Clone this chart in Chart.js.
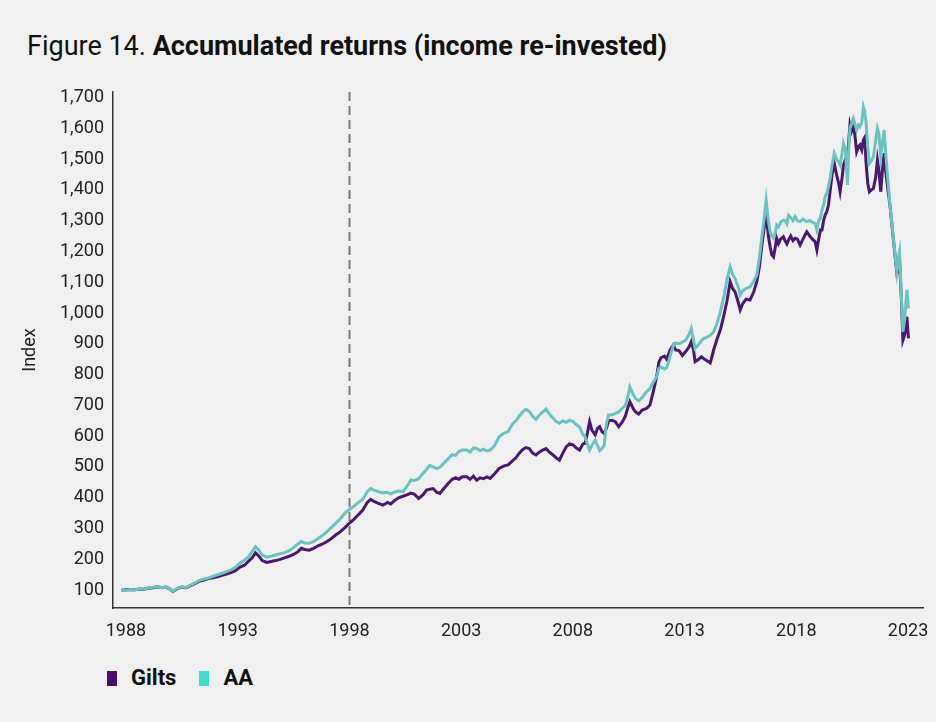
<!DOCTYPE html>
<html>
<head>
<meta charset="utf-8">
<script src="https://cdn.jsdelivr.net/npm/chart.js@4.4.1/dist/chart.umd.min.js"></script>
<style>
  html, body { margin:0; padding:0; background:#f0f0f0; }
  body { width:936px; height:722px; position:relative; overflow:hidden; font-family:Roboto, sans-serif; }
  #title { position:absolute; left:27px; top:30px; font-size:27px; line-height:32px; color:#111; white-space:nowrap; }
  #title b { font-weight:700; }
  #wrap { position:absolute; left:0; top:0; width:936px; height:650px; }
  #legend { position:absolute; left:107px; top:664px; display:flex; align-items:center; font-size:22px; line-height:28px; font-weight:700; color:#111; }
  #legend .item { display:flex; align-items:center; margin-right:23px; }
  #legend .sw { width:10px; height:15px; margin-right:14px; }
</style>
</head>
<body>
<div id="title">Figure 14. <b>Accumulated returns (income re-invested)</b></div>
<div id="wrap"><canvas id="chart" width="936" height="650"></canvas></div>
<div id="legend"></div>
<script>
'use strict';

const years = [
  1987.8, 1988.0, 1988.2, 1988.4, 1988.6, 1988.8, 1989.0, 1989.2, 1989.4, 1989.6,
  1989.8, 1990.0, 1990.1, 1990.3, 1990.5, 1990.7, 1990.9, 1991.1, 1991.3, 1991.5,
  1991.7, 1991.9, 1992.1, 1992.3, 1992.5, 1992.7, 1992.9, 1993.1, 1993.3, 1993.5,
  1993.65, 1993.8, 1993.95, 1994.1, 1994.3, 1994.5, 1994.7, 1994.9, 1995.1, 1995.3,
  1995.5, 1995.7, 1995.85, 1996.0, 1996.2, 1996.4, 1996.6, 1996.8, 1997.0, 1997.2,
  1997.4, 1997.6, 1997.8, 1998.0, 1998.2, 1998.4, 1998.6, 1998.8, 1998.95, 1999.1,
  1999.3, 1999.5, 1999.7, 1999.85, 2000.0, 2000.2, 2000.4, 2000.6, 2000.75, 2000.9,
  2001.1, 2001.3, 2001.45, 2001.6, 2001.75, 2001.9, 2002.05, 2002.2, 2002.4, 2002.6,
  2002.75, 2002.9, 2003.05, 2003.25, 2003.4, 2003.55, 2003.7, 2003.85, 2004.0, 2004.15,
  2004.3, 2004.5, 2004.7, 2004.9, 2005.1, 2005.3, 2005.45, 2005.6, 2005.75, 2005.9,
  2006.05, 2006.2, 2006.35, 2006.5, 2006.65, 2006.8, 2006.95, 2007.1, 2007.25, 2007.4,
  2007.55, 2007.7, 2007.85, 2008.0, 2008.15, 2008.3, 2008.45, 2008.55, 2008.65, 2008.75,
  2008.85, 2009.0, 2009.1, 2009.2, 2009.3, 2009.4, 2009.5, 2009.6, 2009.75, 2009.9,
  2010.05, 2010.2, 2010.35, 2010.45, 2010.55, 2010.7, 2010.8, 2010.95, 2011.1, 2011.3,
  2011.45, 2011.6, 2011.75, 2011.85, 2011.95, 2012.1, 2012.2, 2012.35, 2012.5, 2012.6,
  2012.75, 2012.9, 2013.05, 2013.2, 2013.3, 2013.4, 2013.47, 2013.6, 2013.75, 2013.85,
  2014.0, 2014.15, 2014.3, 2014.45, 2014.6, 2014.75, 2014.9, 2015.04, 2015.15, 2015.26,
  2015.4, 2015.49, 2015.6, 2015.75, 2015.93, 2016.1, 2016.23, 2016.35, 2016.45, 2016.55,
  2016.65, 2016.75, 2016.83, 2016.9, 2016.98, 2017.05, 2017.12, 2017.2, 2017.3, 2017.42,
  2017.5, 2017.58, 2017.65, 2017.75, 2017.85, 2017.95, 2018.05, 2018.17, 2018.3, 2018.4,
  2018.47, 2018.6, 2018.72, 2018.84, 2018.92, 2019.0, 2019.08, 2019.15, 2019.22, 2019.29,
  2019.37, 2019.44, 2019.52, 2019.6, 2019.7, 2019.8, 2019.9, 2019.96, 2020.05, 2020.11,
  2020.2, 2020.29, 2020.35, 2020.4, 2020.47, 2020.55, 2020.62, 2020.7, 2020.78, 2020.85,
  2020.93, 2021.0, 2021.06, 2021.12, 2021.2, 2021.27, 2021.36, 2021.45, 2021.55, 2021.63,
  2021.7, 2021.78, 2021.85, 2021.93, 2022.0, 2022.1, 2022.2, 2022.3, 2022.4, 2022.5,
  2022.57, 2022.62, 2022.7, 2022.77, 2022.85, 2022.95, 2023.02
];

const gilts = [
  100, 101, 102, 101, 104, 103, 106, 108, 111, 108,
  110, 102, 96, 105, 110, 108, 115, 122, 130, 133,
  138, 140, 143, 148, 152, 157, 163, 175, 181, 195,
  205, 221, 210, 196, 190, 193, 196, 200, 205, 210,
  216, 225, 236, 232, 230, 236, 244, 250, 258, 268,
  280, 290, 303, 318, 330, 345, 360, 385, 395, 388,
  382, 376, 385, 380, 390, 400, 405, 410, 415, 412,
  398, 410, 425, 428, 430, 418, 414, 428, 445, 460,
  465, 460, 468, 468, 460, 470, 457, 465, 462, 468,
  463, 478, 495, 503, 507, 520, 530, 545, 556, 563,
  560, 545, 539, 548, 555, 560, 548, 540, 530, 522,
  545, 565, 575, 572, 562, 555, 575, 577, 610, 647,
  620, 604, 625, 631, 615, 609, 625, 650, 652, 647,
  631, 645, 665, 690, 712, 690, 679, 672, 685, 690,
  701, 745, 793, 840, 855, 860, 850, 880, 896, 880,
  878, 862, 875, 890, 907, 880, 842, 848, 858, 852,
  845, 838, 880, 915, 945, 990, 1040, 1102, 1080, 1069,
  1035, 1010, 1030, 1045, 1042, 1070, 1102, 1150, 1215, 1270,
  1324, 1250, 1215, 1190, 1183, 1210, 1243, 1225, 1240, 1248,
  1235, 1225, 1237, 1250, 1235, 1243, 1240, 1221, 1240, 1255,
  1264, 1250, 1240, 1232, 1205, 1240, 1270, 1270, 1300, 1318,
  1330, 1351, 1400, 1450, 1486, 1450, 1420, 1394, 1440, 1480,
  1500, 1508, 1560, 1611, 1590, 1605, 1580, 1524, 1540, 1546,
  1530, 1562, 1570, 1490, 1420, 1394, 1400, 1405, 1440, 1497,
  1460, 1394, 1460, 1519, 1460, 1400, 1345, 1270, 1200, 1129,
  1140, 1172, 1050, 912, 930, 988, 918
];

const aa = [
  100, 100, 102, 101, 104, 104, 107, 109, 111, 108,
  110, 103, 97, 106, 111, 109, 116, 124, 132, 136,
  140, 145, 150, 155, 160, 166, 174, 188, 197, 210,
  225, 241, 230, 214, 207, 210, 214, 218, 222, 228,
  238, 250, 258, 253, 252, 258, 268, 278, 290, 304,
  318, 332, 350, 362, 372, 385, 395, 420, 430, 425,
  420, 416, 418, 412, 418, 422, 420, 440, 458, 456,
  462, 480, 492, 505, 500, 495, 499, 510, 525, 540,
  538, 550, 555, 555, 548, 562, 560, 553, 558, 552,
  555, 570, 598, 609, 615, 640, 650, 665, 678, 687,
  680, 665, 655, 668, 678, 688, 672, 660, 648, 642,
  650, 645, 652, 648, 638, 630, 605, 598, 575, 555,
  570, 587, 570, 553, 560, 570, 640, 669, 670, 674,
  679, 690, 700, 725, 760, 735, 723, 715, 725, 745,
  755, 775, 793, 820, 825, 818, 822, 860, 895, 903,
  900, 906, 912, 930, 950, 912, 885, 895, 910, 917,
  922, 928, 939, 965, 1004, 1050, 1110, 1150, 1125, 1112,
  1085, 1058, 1072, 1080, 1085, 1105, 1123, 1180, 1243, 1300,
  1367, 1300, 1264, 1250, 1243, 1260, 1286, 1280, 1295, 1302,
  1300, 1290, 1318, 1310, 1300, 1313, 1300, 1297, 1305, 1300,
  1297, 1300, 1295, 1291, 1270, 1300, 1310, 1334, 1350, 1378,
  1390, 1410, 1440, 1480, 1519, 1500, 1490, 1481, 1520, 1551,
  1530, 1416, 1540, 1600, 1615, 1632, 1615, 1594, 1610, 1605,
  1620, 1670, 1655, 1621, 1540, 1486, 1495, 1508, 1560, 1600,
  1580, 1508, 1550, 1594, 1520, 1430, 1345, 1275, 1205, 1134,
  1180, 1199, 1060, 939, 980, 1075, 1015
];

const xTicks = [1988, 1993, 1998, 2003, 2008, 2013, 2018, 2023];
const yTicks = [100, 200, 300, 400, 500, 600, 700, 800, 900, 1000, 1100, 1200, 1300, 1400, 1500, 1600, 1700];
const markerYear = 1998;

const GILTS_LINE = '#48196c';
const AA_LINE    = '#6cc3bd';
const GILTS_KEY  = '#4b0d70';
const AA_KEY     = '#3fdccb';

const toPoints = (vals) => vals.map((v, i) => ({ x: years[i], y: v }));

// dashed vertical line at the marker year
const markerLine = {
  id: 'markerLine',
  beforeDatasetsDraw(chart) {
    const { ctx, chartArea, scales } = chart;
    const x = Math.round(scales.x.getPixelForValue(markerYear)) + 0.5;
    ctx.save();
    ctx.strokeStyle = '#7a7a7a';
    ctx.lineWidth = 2;
    ctx.setLineDash([9, 5]);
    ctx.beginPath();
    ctx.moveTo(x, chartArea.top);
    ctx.lineTo(x, chartArea.bottom);
    ctx.stroke();
    ctx.restore();
  }
};

const tickFont = { family: 'Roboto, sans-serif', size: 18 };

const chart = new Chart(document.getElementById('chart'), {
  type: 'line',
  data: {
    datasets: [
      { label:'AA', data: toPoints(aa), borderColor: AA_LINE, borderWidth: 3, pointRadius: 0, tension: 0, key: AA_KEY },
      { label:'Gilts', data: toPoints(gilts), borderColor: GILTS_LINE, borderWidth: 3, pointRadius: 0, tension: 0, key: GILTS_KEY },
    ]
  },
  options: {
    responsive: false,
    animation: false,
    layout: { padding: { top: 92, right: 13, left: 0, bottom: 0 } },
    plugins: { legend: { display: false }, tooltip: { enabled: false } },
    scales: {
      x: {
        type: 'linear',
        min: 1987.42, max: 2023.67,
        afterBuildTicks: (s) => { s.ticks = xTicks.map(v => ({ value: v })); },
        // labels may overhang the plot edges, don't let them shrink it
        afterFit: (s) => { s.height = 42; s.paddingLeft = 0; s.paddingRight = 0; },
        ticks: { color:'#222', font: tickFont, padding: 13, maxRotation: 0, callback: (v) => String(v) },
        grid: { display: false, drawTicks: false },
        border: { display: true, color: '#333', width: 1.5 },
      },
      y: {
        min: 42, max: 1718,
        afterBuildTicks: (s) => { s.ticks = yTicks.map(v => ({ value: v })); },
        afterFit: (s) => { s.width = 113; s.paddingTop = 0; s.paddingBottom = 0; },
        ticks: { color:'#222', font: tickFont, padding: 9, callback: (v) => v.toLocaleString('en-US') },
        grid: { display: false, drawTicks: false },
        border: { display: true, color: '#333', width: 1.5 },
        title: { display: true, text: 'Index', color: '#222', font: tickFont, padding: { top: 20, bottom: 0 } },
      }
    }
  },
  plugins: [markerLine]
});

// legend built from the datasets (Gilts first, as in the figure)
const legend = document.getElementById('legend');
legend.innerHTML = chart.data.datasets.slice().reverse().map(d =>
  `<span class="item"><span class="sw" style="background:${d.key}"></span>${d.label}</span>`
).join('');
</script>
</body>
</html>
